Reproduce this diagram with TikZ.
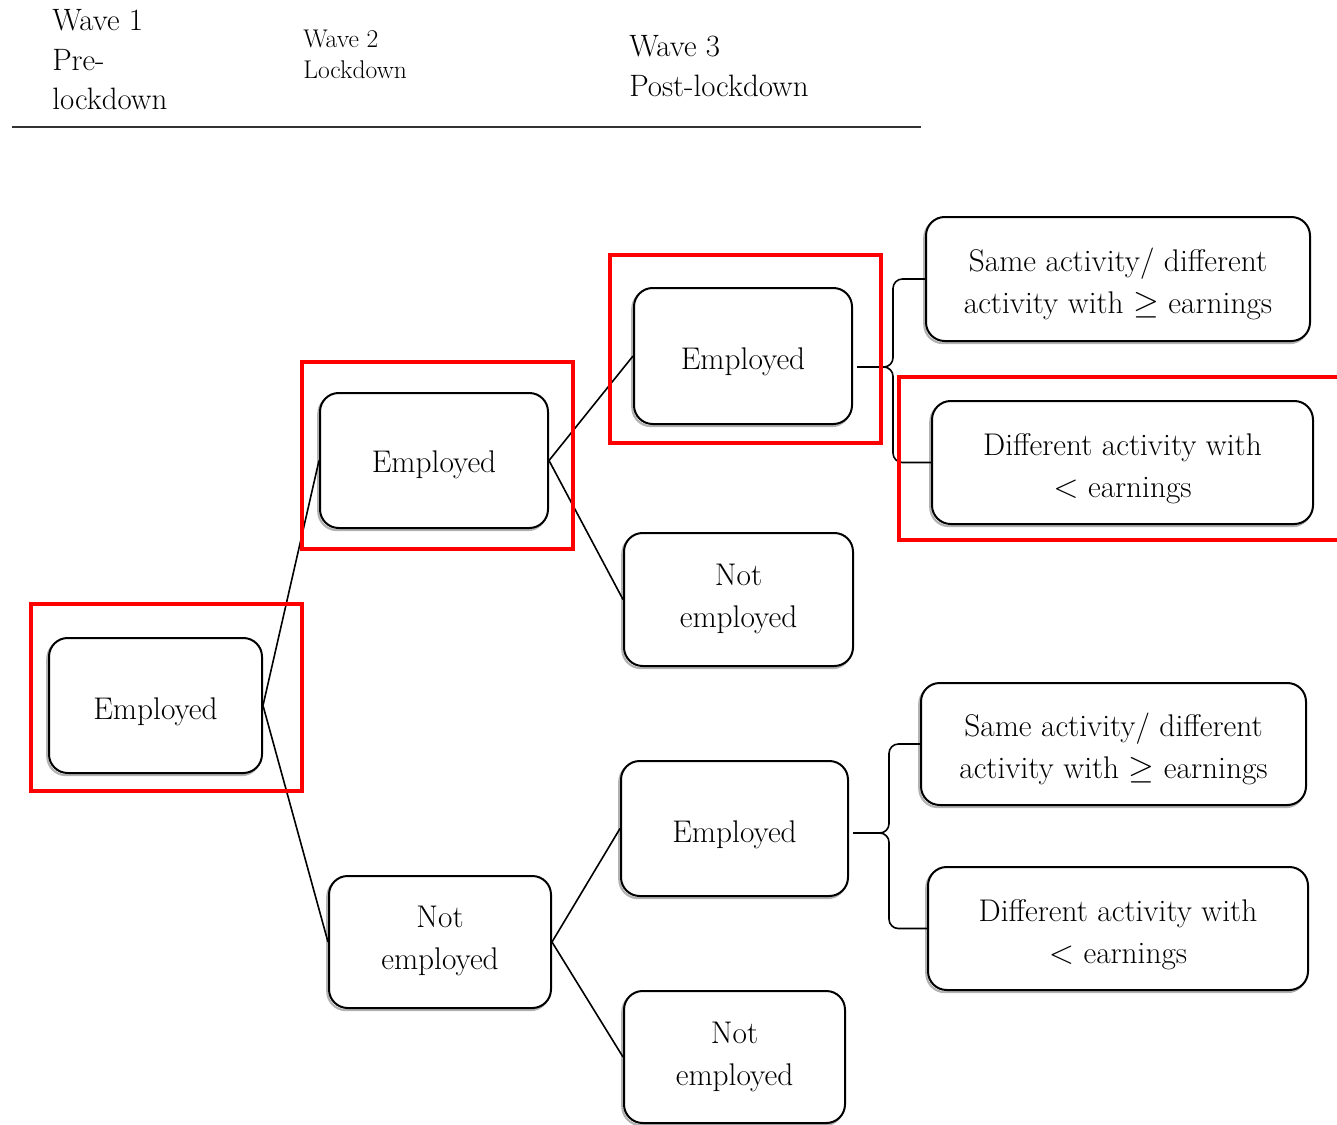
\documentclass[tikz,border=0pt]{standalone}
\begin{document}
\begin{tikzpicture}[x=0.75pt,y=-0.75pt,
  box/.style={draw, line width=1.5pt, rounded corners=14pt, fill=white,
    inner sep=0pt,
    preaction={draw=black!30, line width=1.6pt, transform canvas={shift={(-1.3pt,-1.6pt)}}}},
  lbl/.style={font=\fontsize{23.5}{31.5}\selectfont, align=center, inner sep=0pt},
  conn/.style={draw, line width=1.2pt},
  hl/.style={draw=red, line width=3pt},
  hbig/.style={inner sep=0pt, anchor=base west, font=\fontsize{23.2}{29}\selectfont},
  hsmall/.style={inner sep=0pt, anchor=base west, font=\fontsize{19.2}{24}\selectfont}]
\useasboundingbox (0,0) rectangle (1337,1124);

% header
\node[hbig] (w1a) at (52,31) {Wave 1};
\node[hbig] (w1b) at (52,70) {Pre-};
\node[hbig] (w1c) at (52,109) {lockdown};
\node[hsmall] (w2a) at (303,48) {Wave 2};
\node[hsmall] (w2b) at (303,79) {Lockdown};
\node[hbig] (w3a) at (629,57) {Wave 3};
\node[hbig] (w3b) at (629,96) {Post-lockdown};
\draw[line width=1.4pt, black!80] (12,127) -- (921,127);

% boxes
\node[box, minimum width=159.75pt, minimum height=101.25pt,
  label={[lbl, yshift=-4.5pt]center:Employed}] (A) at (155.5,705.5) {};
\node[box, minimum width=171pt, minimum height=101.25pt,
  label={[lbl, yshift=-3.5pt]center:Employed}] (B) at (434,460.5) {};
\node[box, minimum width=166.5pt, minimum height=99pt,
  label={[lbl, yshift=1pt]center:{Not\\employed}}] (C) at (440,942) {};
\node[box, minimum width=163.5pt, minimum height=102pt,
  label={[lbl, yshift=-4.5pt]center:Employed}] (D) at (743,356) {};
\node[box, minimum width=171.75pt, minimum height=99.75pt,
  label={[lbl, yshift=0.5pt]center:{Not\\employed}}] (E) at (738.5,599.5) {};
\node[box, minimum width=170.25pt, minimum height=101.25pt,
  label={[lbl, yshift=-4.5pt]center:Employed}] (F) at (734.5,828.5) {};
\node[box, minimum width=165.75pt, minimum height=99pt,
  label={[lbl]center:{Not\\employed}}] (G) at (734.5,1057) {};
\node[box, minimum width=288pt, minimum height=93pt,
  label={[lbl, yshift=-4pt]center:{Same activity/ different\\activity with $\geq$ earnings}}] (H) at (1118,279) {};
\node[box, minimum width=285.75pt, minimum height=92.25pt,
  label={[lbl, yshift=-4.5pt]center:{Different activity with\\$<$ earnings}}] (I) at (1122.5,462.5) {};
\node[box, minimum width=288.75pt, minimum height=91.5pt,
  label={[lbl, yshift=-4pt]center:{Same activity/ different\\activity with $\geq$ earnings}}] (J) at (1113.5,744) {};
\node[box, minimum width=285pt, minimum height=92.25pt,
  label={[lbl, yshift=-4.5pt]center:{Different activity with\\$<$ earnings}}] (K) at (1118,928.5) {};

% connectors
\draw[conn] (A.east) -- (B.west);
\draw[conn] (A.east) -- (C.west);
\draw[conn] (B.east) -- (D.west);
\draw[conn] (B.east) -- (E.west);
\draw[conn] (C.east) -- (F.west);
\draw[conn] (C.east) -- (G.west);

% braces
\coordinate (tipD) at (893,367);
\coordinate (startD) at (857,367);
\draw[conn, rounded corners=7] (H.west) -| (tipD) -- (startD);
\draw[conn, rounded corners=7] (I.west) -| (tipD) -- (startD);
\coordinate (tipF) at (889,833);
\coordinate (startF) at (853,833);
\draw[conn, rounded corners=7] (J.west) -| (tipF) -- (startF);
\draw[conn, rounded corners=7] (K.west) -| (tipF) -- (startF);

% highlight rectangles
\draw[hl] (31,604) rectangle (302,791);
\draw[hl] (302,362) rectangle (573,549);
\draw[hl] (610,255) rectangle (881,443);
\draw[hl] (899,377) rectangle (1345,540);
\end{tikzpicture}
\end{document}
